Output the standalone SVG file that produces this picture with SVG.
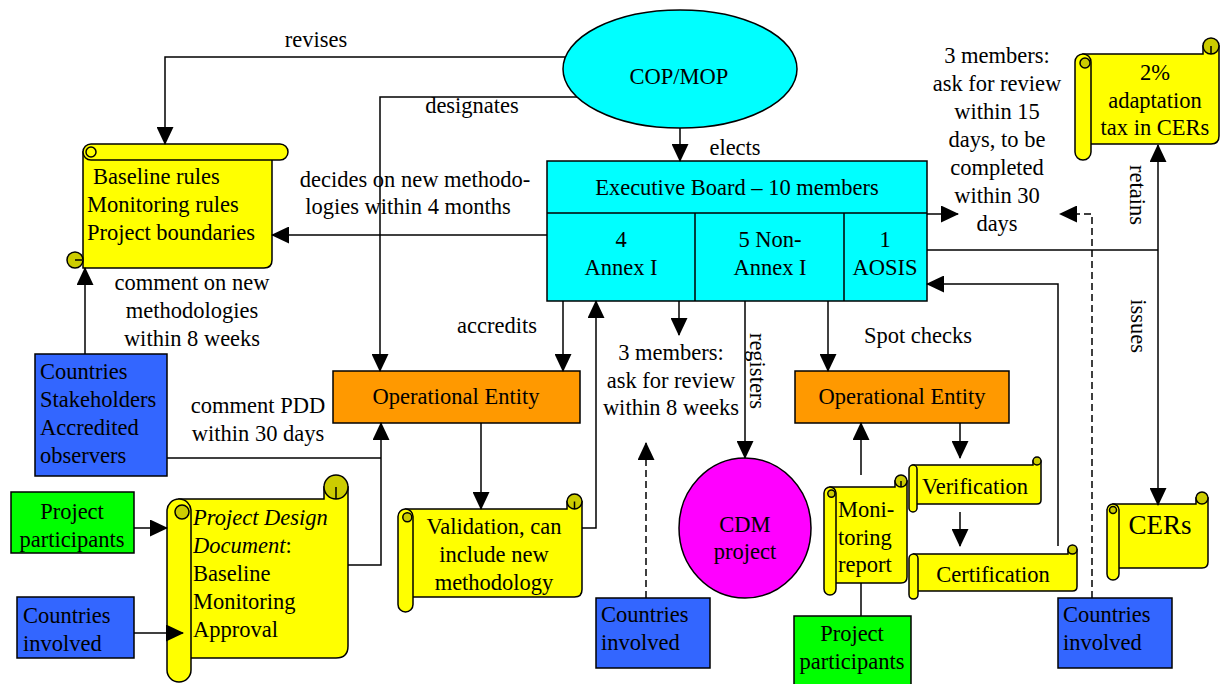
<svg xmlns="http://www.w3.org/2000/svg" width="1221" height="684" viewBox="0 0 1221 684" font-family="'Liberation Serif','Times New Roman',Times,serif">
<style>
text{font-family:"Liberation Serif","Times New Roman",Times,serif;font-size:22.5px;fill:#000}
.c{text-anchor:middle}
.i{font-style:italic}
.ln{stroke:#000;stroke-width:1.5;fill:none}
.ar{marker-end:url(#ah)}
.da{stroke-dasharray:7,4}
.sc{fill:#ffff00;stroke:#000;stroke-width:1.5}
.dk{fill:#cccc00;stroke:#000;stroke-width:1.5}
.bx{stroke:#000;stroke-width:1.5}
</style>
<defs>
<marker id="ah" markerWidth="18" markerHeight="17" refX="17" refY="8.5" orient="auto" markerUnits="userSpaceOnUse"><path d="M0,0 L18,8.5 L0,17 Z" fill="#000"/></marker>
</defs>
<rect width="1221" height="684" fill="#fff"/>

<g id="copmop">
<ellipse cx="680" cy="69" rx="117" ry="59" fill="#00ffff" class="bx"/>
<text class="c" x="679" y="84">COP/MOP</text>
</g>

<g id="exec-board">
<rect x="547" y="161" width="380" height="140" fill="#00ffff" class="bx" stroke-width="2"/>
<path class="ln" d="M547,213 H927 M695,213 V301 M844,213 V301" stroke-width="2"/>
<text class="c" x="737" y="195">Executive Board – 10 members</text>
<text class="c" x="621" y="247">4</text>
<text class="c" x="621" y="275">Annex I</text>
<text class="c" x="770" y="247">5 Non-</text>
<text class="c" x="770" y="275">Annex I</text>
<text class="c" x="885" y="247">1</text>
<text class="c" x="885" y="275">AOSIS</text>
</g>

<g id="baseline-rules">
<path class="sc" d="M83,152 V268 H264 Q272,268 272,260 V152 Z"/>
<circle class="dk" cx="75" cy="260" r="8"/>
<path class="ln" d="M75,260 H82"/>
<rect class="sc" x="83" y="144" width="205" height="16" rx="8"/>
<circle class="sc" cx="91" cy="152" r="5"/>
<text x="93" y="184">Baseline rules</text>
<text x="87" y="212">Monitoring rules</text>
<text x="87" y="240">Project boundaries</text>
</g>

<g id="adaptation-tax">
<path class="sc" d="M1083,54 H1203 V46 H1219 V136 Q1219,144 1211,144 H1083 Z"/>
<rect class="sc" x="1075" y="54" width="16" height="106" rx="8"/>
<circle class="dk" cx="1085" cy="63" r="5"/>
<circle class="dk" cx="1211" cy="46" r="8"/>
<path class="ln" d="M1211,46 V54"/>
<text class="c" x="1155" y="80">2%</text>
<text class="c" x="1155" y="108">adaptation</text>
<text class="c" x="1155" y="135">tax in CERs</text>
</g>

<g id="oe-left">
<rect x="333" y="371" width="247" height="52" fill="#ff9900" class="bx"/>
<text class="c" x="456" y="404">Operational Entity</text>
</g>

<g id="oe-right">
<rect x="795" y="371" width="214" height="52" fill="#ff9900" class="bx"/>
<text class="c" x="902" y="404">Operational Entity</text>
</g>

<g id="stakeholders">
<rect x="35" y="354" width="132" height="122" fill="#3366ff" class="bx"/>
<text x="40" y="379">Countries</text>
<text x="40" y="407">Stakeholders</text>
<text x="40" y="435">Accredited</text>
<text x="40" y="463">observers</text>
</g>

<g id="pp-left">
<rect x="11" y="492" width="123" height="61" fill="#00ff00" class="bx"/>
<text class="c" x="72" y="519">Project</text>
<text class="c" x="72" y="547">participants</text>
</g>

<g id="ci-left">
<rect x="17" y="597" width="117" height="61" fill="#3366ff" class="bx"/>
<text x="23" y="623">Countries</text>
<text x="23" y="651">involved</text>
</g>

<g id="pdd">
<path class="sc" d="M179,499 H324 V487 H348 V646 Q348,658 336,658 H179 Z"/>
<rect class="sc" x="167" y="499" width="24" height="183" rx="12"/>
<circle class="dk" cx="182" cy="512" r="7"/>
<circle class="dk" cx="336" cy="487" r="12"/>
<path class="ln" d="M336,487 V499"/>
<text x="193" y="525" class="i">Project Design</text>
<text x="193" y="553"><tspan class="i">Document</tspan>:</text>
<text x="193" y="581">Baseline</text>
<text x="193" y="609">Monitoring</text>
<text x="193" y="637">Approval</text>
</g>

<g id="validation">
<path class="sc" d="M405.5,509 H567 V501.5 H582 V589.5 Q582,597 574.5,597 H405.5 Z"/>
<rect class="sc" x="398" y="509" width="15" height="103" rx="7.5"/>
<circle class="dk" cx="407.3" cy="517.3" r="4.5"/>
<circle class="dk" cx="574.5" cy="501.5" r="7.5"/>
<path class="ln" d="M574.5,501.5 V509"/>
<text class="c" x="494" y="534">Validation, can</text>
<text class="c" x="494" y="562">include new</text>
<text class="c" x="494" y="590">methodology</text>
</g>

<g id="ci-mid">
<rect x="596" y="598" width="114" height="70" fill="#3366ff" class="bx"/>
<text x="601" y="622">Countries</text>
<text x="601" y="650">involved</text>
</g>

<g id="cdm-project">
<ellipse cx="745" cy="528" rx="66" ry="70" fill="#ff00ff" class="bx"/>
<text class="c" x="745" y="532">CDM</text>
<text class="c" x="745" y="559">project</text>
</g>

<g id="monitoring-report">
<path class="sc" d="M830,487 H895 V481 H907 V577 Q907,583 901,583 H830 Z"/>
<rect class="sc" x="824" y="487" width="12" height="108" rx="6"/>
<circle class="dk" cx="831.4" cy="493.6" r="3.6"/>
<circle class="dk" cx="901" cy="481" r="6"/>
<path class="ln" d="M901,481 V487"/>
<text x="838" y="517">Moni-</text>
<text x="838" y="545">toring</text>
<text x="838" y="572">report</text>
</g>

<g id="pp-bottom">
<rect x="794" y="616" width="117" height="75" fill="#00ff00" class="bx"/>
<text class="c" x="852" y="641">Project</text>
<text class="c" x="852" y="669">participants</text>
</g>

<g id="verification">
<path class="sc" d="M913,465 H1033 V461 H1041 V500 Q1041,504 1037,504 H913 Z"/>
<rect class="sc" x="909" y="465" width="8" height="47" rx="4"/>
<circle class="dk" cx="1037" cy="461" r="4"/>
<text class="c" x="975" y="494">Verification</text>
</g>

<g id="certification">
<path class="sc" d="M913.5,554 H1068 V549.5 H1077 V586.5 Q1077,591 1072.5,591 H913.5 Z"/>
<rect class="sc" x="909" y="554" width="9" height="45" rx="4.5"/>
<circle class="dk" cx="1072.5" cy="549.5" r="4.5"/>
<text class="c" x="993" y="582">Certification</text>
</g>

<g id="ci-right">
<rect x="1058" y="598" width="114" height="70" fill="#3366ff" class="bx"/>
<text x="1063" y="622">Countries</text>
<text x="1063" y="650">involved</text>
</g>

<g id="cers">
<path class="sc" d="M1113,504 H1196 V498 H1208 V562 Q1208,568 1202,568 H1113 Z"/>
<rect class="sc" x="1107" y="504" width="12" height="76" rx="6"/>
<circle class="dk" cx="1113" cy="510" r="3.5"/>
<circle class="dk" cx="1202" cy="498" r="6"/>
<text class="c" x="1160" y="534" style="font-size:27px">CERs</text>
</g>

<g id="connectors">
<path class="ln ar" d="M565,57 H165 V144"/>
<path class="ln ar" d="M577,97 H380 V371"/>
<path class="ln ar" d="M680,128 V161"/>
<path class="ln ar" d="M547,235 H272"/>
<path class="ln ar" d="M85,354 V268"/>
<path class="ln ar" d="M563,301 V371"/>
<path class="ln ar" d="M582,528 H596 V301"/>
<path class="ln ar" d="M679,301 V335"/>
<path class="ln ar da" d="M646,598 V443"/>
<path class="ln ar" d="M745,301 V458"/>
<path class="ln ar" d="M828,301 V371"/>
<path class="ln ar" d="M481,423 V509"/>
<path class="ln ar" d="M348,565 H381 V423"/>
<path class="ln" d="M167,458 H381"/>
<path class="ln ar" d="M134,528 H167"/>
<path class="ln ar" d="M134,633 H183"/>
<path class="ln ar" d="M861,475 V423"/>
<path class="ln" d="M861,616 V583"/>
<path class="ln ar" d="M960,423 V458"/>
<path class="ln ar" d="M960,512 V546"/>
<path class="ln ar" d="M1058,546 V284 H927"/>
<path class="ln ar da" d="M1092,598 V214 H1060"/>
<path class="ln ar" d="M927,214 H958"/>
<path class="ln" d="M927,250 H1158"/>
<path class="ln ar" d="M1158,250 V145"/>
<path class="ln ar" d="M1158,250 V505"/>
<text class="c" x="316" y="47">revises</text>
<text class="c" x="472" y="113">designates</text>
<text class="c" x="735" y="155">elects</text>
<text class="c" x="415" y="187">decides on new methodo-</text>
<text class="c" x="408" y="214">logies within 4 months</text>
<text class="c" x="192" y="290">comment on new</text>
<text class="c" x="192" y="318">methodologies</text>
<text class="c" x="192" y="346">within 8 weeks</text>
<text class="c" x="497" y="333">accredits</text>
<text class="c" x="671" y="360">3 members:</text>
<text class="c" x="671" y="388">ask for review</text>
<text class="c" x="671" y="415">within 8 weeks</text>
<text class="c" x="918" y="343">Spot checks</text>
<text class="c" x="258" y="413">comment PDD</text>
<text class="c" x="258" y="441">within 30 days</text>
<text class="c" x="997" y="63">3 members:</text>
<text class="c" x="997" y="91">ask for review</text>
<text class="c" x="997" y="119">within 15</text>
<text class="c" x="997" y="147">days, to be</text>
<text class="c" x="997" y="175">completed</text>
<text class="c" x="997" y="203">within 30</text>
<text class="c" x="997" y="231">days</text>
<text class="c" transform="translate(757,371) rotate(90)" y="7">registers</text>
<text class="c" transform="translate(1137,195) rotate(90)" y="7">retains</text>
<text class="c" transform="translate(1138,326) rotate(90)" y="7">issues</text>
</g>
</svg>
